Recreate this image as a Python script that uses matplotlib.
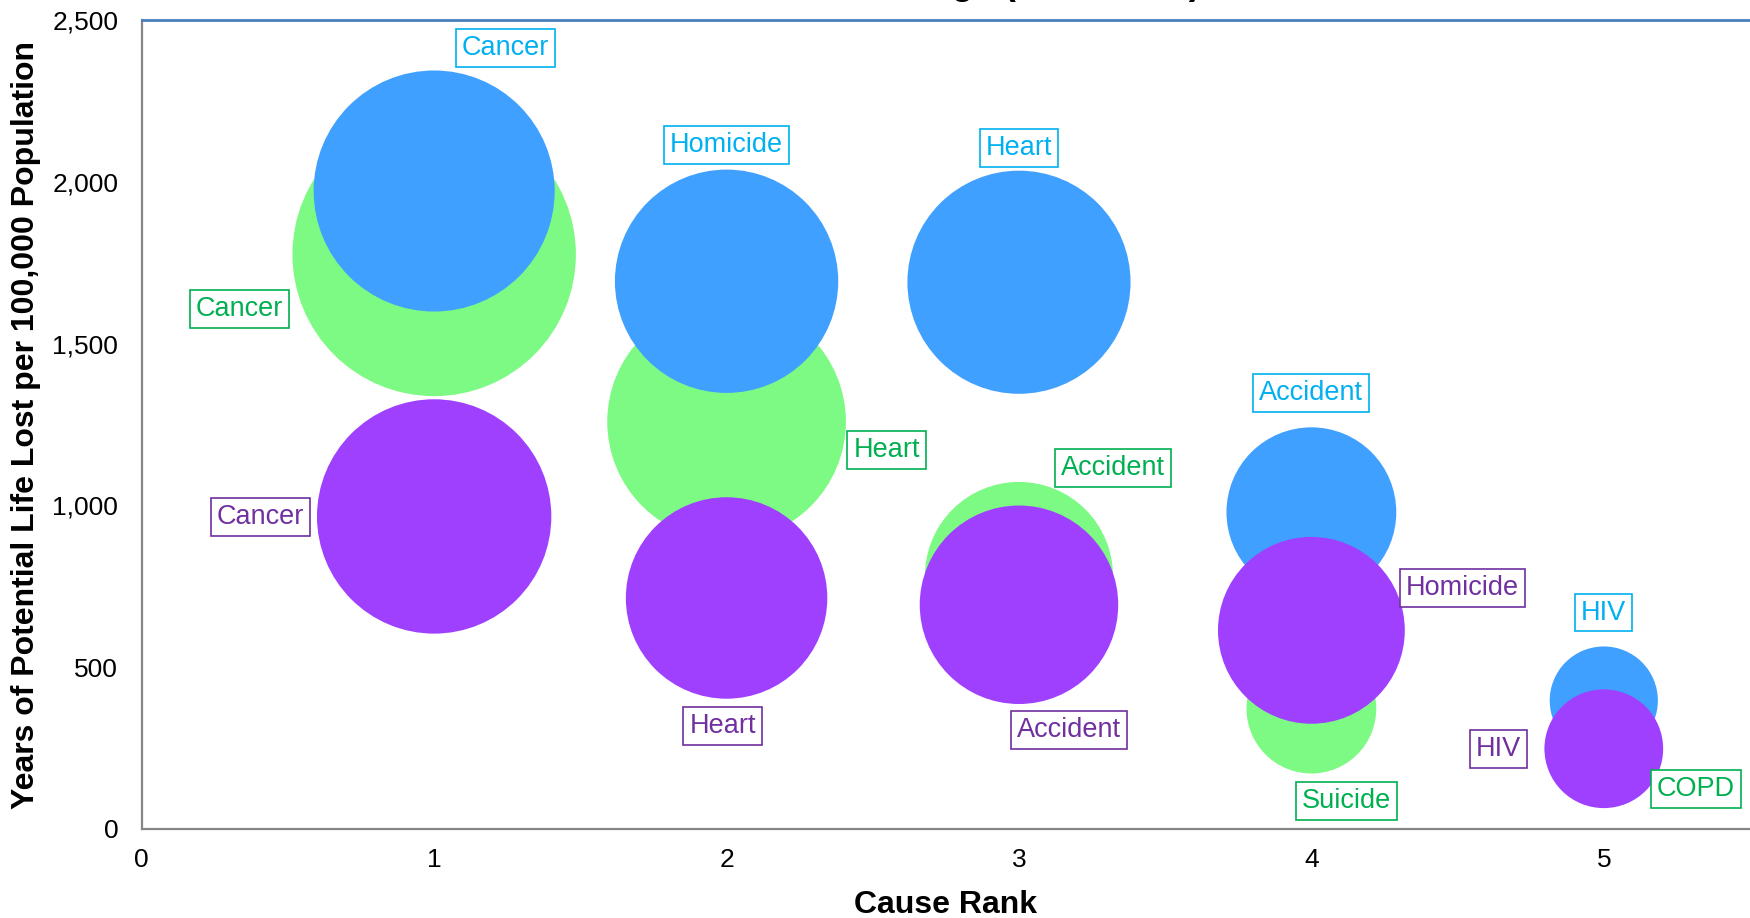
import matplotlib.pyplot as plt
from matplotlib.ticker import FuncFormatter

plt.rcParams['font.family'] = ['Liberation Sans', 'DejaVu Sans']

# cause rank (x) and years of potential life lost per 100,000 (y, also the bubble size)
rank = [1, 2, 3, 4, 5]

blue_vals = [1972, 1693, 1690, 979, 397]
green_vals = [1776, 1259, 782, 372, 235]
purple_vals = [966, 714, 693, 614, 248]

blue_causes = ['Cancer', 'Homicide', 'Heart', 'Accident', 'HIV']
green_causes = ['Cancer', 'Heart', 'Accident', 'Suicide', 'COPD']
purple_causes = ['Cancer', 'Heart', 'Accident', 'Homicide', 'HIV']

# label offsets in pixels from the bubble centre
blue_off = [(71, 143), (0, 136), (0, 134), (0, 119), (0, 88)]
green_off = [(-195, -55), (160, -28), (94, 108), (35, -92), (92, -36)]
purple_off = [(-174, -1), (-4, -128), (50, -125), (151, 42), (-105, 0)]

series = [
    # values, causes, offsets, fill, text colour, radius px per sqrt(value)
    (green_vals, green_causes, green_off, '#7dfa83', '#00b050', 3.363),
    (blue_vals, blue_causes, blue_off, '#40a0ff', '#00b0f0', 2.714),
    (purple_vals, purple_causes, purple_off, '#9f40ff', '#7030a0', 3.770),
]

fig = plt.figure(figsize=(17.5, 9.18), dpi=100)
ax = fig.add_axes([0.081, 0.097, 0.919, 0.881])

for z, (vals, causes, offs, fill, tcol, k) in enumerate(series):
    # marker diameter in points: 2 * radius_px * 0.72
    sizes = [(2 * k * v ** 0.5 * 0.72) ** 2 for v in vals]
    ax.scatter(rank, vals, s=sizes, c=fill, edgecolors='none', zorder=2 + z)
    for xi, yi, name, (dx, dy) in zip(rank, vals, causes, offs):
        ax.annotate(name, (xi, yi), xytext=(dx, dy), textcoords='offset pixels',
                    ha='center', va='center', fontsize=19.5, color=tcol, zorder=10,
                    bbox=dict(boxstyle='square,pad=0.22', fc='white', ec=tcol, lw=1.2))

ax.set_xlim(0, 5.5)
ax.set_ylim(0, 2500)
ax.set_xticks([0, 1, 2, 3, 4, 5])
ax.set_yticks([0, 500, 1000, 1500, 2000, 2500])
ax.yaxis.set_major_formatter(FuncFormatter(lambda v, p: f'{int(v):,}'))
ax.tick_params(length=0, labelsize=19)
ax.tick_params(axis='y', pad=17)
ax.tick_params(axis='x', pad=14)

for side in ['left', 'bottom']:
    ax.spines[side].set_color('#868686')
    ax.spines[side].set_linewidth(1.6)
ax.spines['top'].set_color('#4a7ebb')
ax.spines['top'].set_linewidth(2)
ax.spines['right'].set_visible(False)

ax.set_xlabel('Cause Rank', fontsize=23, fontweight='bold', labelpad=13)
ax.set_ylabel('Years of Potential Life Lost per 100,000 Population', fontsize=23,
              fontweight='bold', labelpad=8)

# title sits mostly above the canvas in the original; only its descenders show
fig.text(0.686, 1.007, 'Most Common Causes of Death in Each Race and Age (2008-2010)',
         ha='right', va='baseline', fontsize=26, fontweight='bold')

fig.savefig('out.png', dpi=100)
